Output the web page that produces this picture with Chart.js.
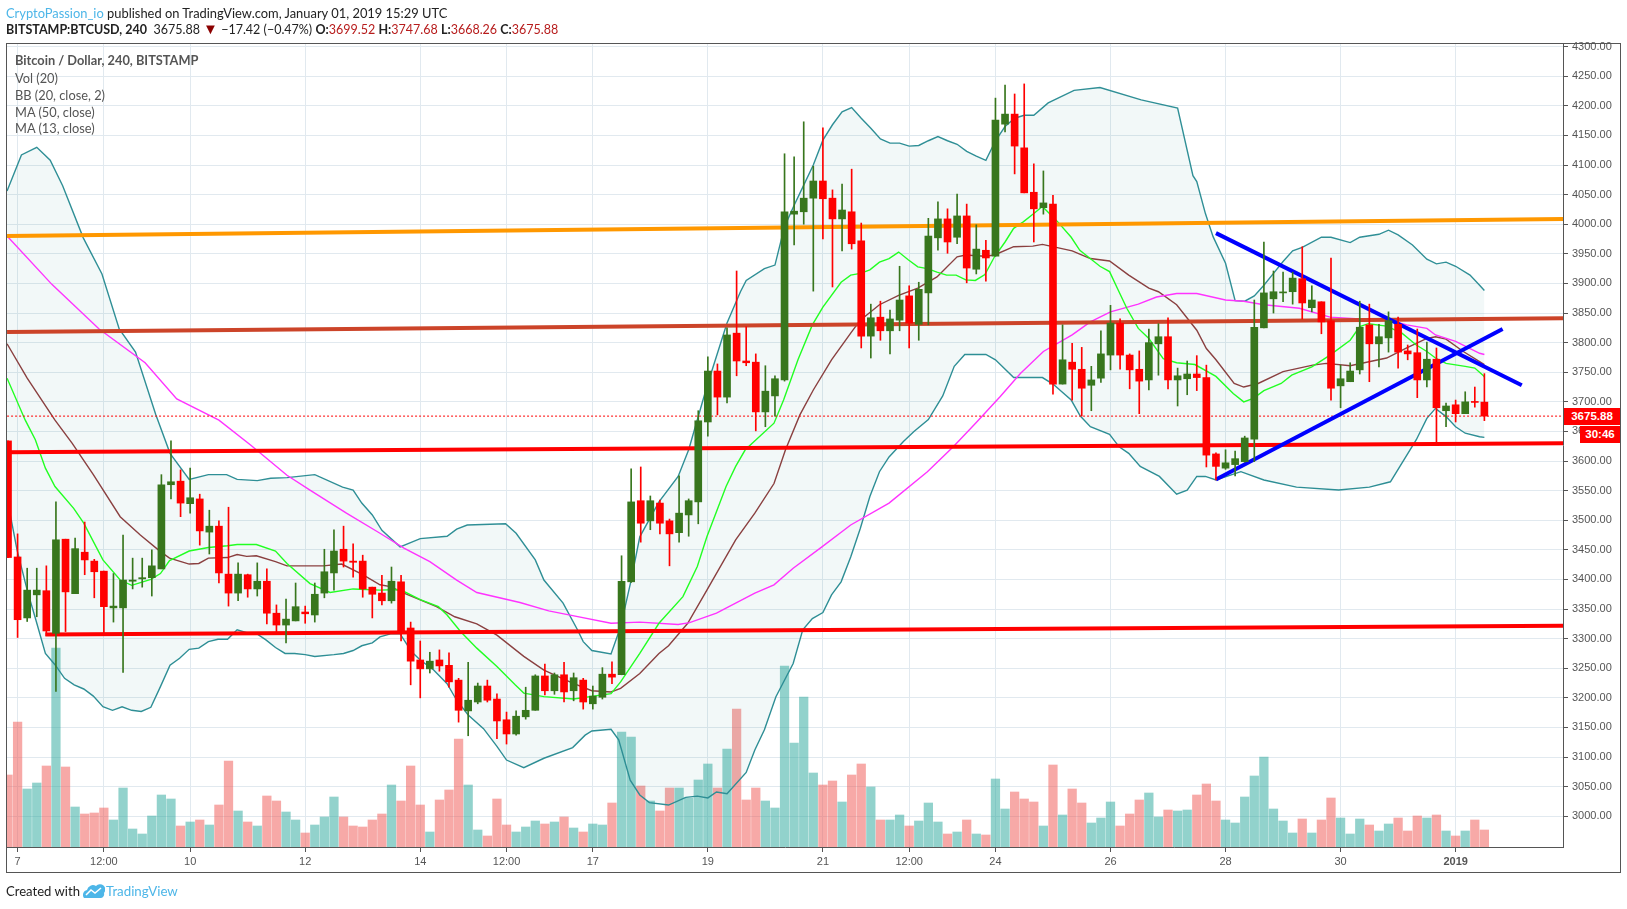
<!DOCTYPE html>
<html>
<head>
<meta charset="utf-8">
<title>BTCUSD</title>
<script src="https://cdn.jsdelivr.net/npm/chart.js@4/dist/chart.umd.min.js"></script>
<style>
    body { margin: 0; background: #fff; overflow: hidden; }
    #wrap { position: relative; width: 1627px; height: 909px; font-family: Lato, sans-serif; }
    #frame { position: absolute; left: 6px; top: 43px; width: 1613px; height: 828px; border: 1px solid #555; pointer-events: none; }
    .txt { position: absolute; white-space: nowrap; line-height: 16px; }
    .legend { left: 15px; color: #555; font-size: 12.8px; }
    .val { color: #b71c1c; }
    .tag { position: absolute; background: #ff0000; color: #fff; font: bold 11.5px "Liberation Sans", sans-serif; text-align: center; }
    canvas { position: absolute; left: 0; top: 0; }
</style>
</head>
<body>
<div id="wrap">
    <canvas id="chart" width="1627" height="909"></canvas>
    <div id="frame"></div>
    <div class="txt" style="left:6px;top:5px;font-size:12.9px;color:#222"><span style="color:#4db6e8">CryptoPassion_io</span> published on TradingView.com, January 01, 2019 15:29 UTC</div>
    <div class="txt" style="left:6px;top:21px;font-size:12.5px;color:#222"><b>BITSTAMP:BTCUSD, 240</b>&nbsp; 3675.88 <span style="color:#8b0000;font-size:15px;line-height:14px">▼</span> −17.42 (−0.47%) <b>O:</b><span class="val">3699.52</span> <b>H:</b><span class="val">3747.68</span> <b>L:</b><span class="val">3668.26</span> <b>C:</b><span class="val">3675.88</span></div>
    <div class="txt legend" style="top:52px"><b>Bitcoin / Dollar, 240, BITSTAMP</b></div>
    <div class="txt legend" style="top:70px">Vol (20)</div>
    <div class="txt legend" style="top:87px">BB (20, close, 2)</div>
    <div class="txt legend" style="top:104px">MA (50, close)</div>
    <div class="txt legend" style="top:120px">MA (13, close)</div>
    <div class="tag" style="left:1564px;top:408px;width:56px;height:17px;line-height:17px">3675.88</div>
    <div class="tag" style="left:1580px;top:426px;width:40px;height:17px;line-height:17px">30:46</div>
    <div class="txt" style="left:6px;top:883px;font-size:13.1px;color:#222">Created with</div>
    <svg style="position:absolute;left:83px;top:883px" width="22" height="16" viewBox="0 0 22 16">
        <path d="M1 15 A5 5 0 0 1 4 7 A6 6 0 0 1 13 3 A5 5 0 0 1 21 10 A4 4 0 0 1 18 15 Z" fill="#4db6e8"/>
        <path d="M3 12 L8 7 L12 10 L18 5" fill="none" stroke="#fff" stroke-width="1.5"/>
    </svg>
    <div class="txt" style="left:106px;top:883px;font-size:13.3px;color:#4db6e8">TradingView</div>
</div>
<script>
// candles, first one is half hidden behind the left edge, 4h each
const firstIndex = -1;
const opens = [3634,3438,3335,3374,3381,3309,3468,3376,3446,3431,3414,3352,3352,3397,3401,3403,3418,3560,3566,3528,3536,3480,3490,3409,3377,3408,3384,3397,3343,3323,3330,3345,3340,3377,3411,3451,3431,3431,3387,3377,3364,3396,3318,3264,3249,3264,3255,3230,3178,3193,3220,3198,3163,3139,3168,3179,3237,3212,3239,3212,3230,3190,3201,3240,3239,3396,3533,3499,3529,3499,3479,3509,3531,3666,3752,3708,3816,3769,3767,3683,3710,3737,4017,4021,4044,4073,4044,4009,4021,3972,3811,3843,3820,3838,3879,3831,3884,3977,4009,3978,4014,3924,3956,3946,4169,4186,4129,4054,4028,4034,3730,3767,3755,3728,3740,3779,3833,3779,3755,3737,3798,3810,3737,3739,3747,3741,3612,3588,3594,3599,3637,3825,3874,3884,3886,3908,3859,3869,3837,3727,3734,3754,3830,3798,3808,3831,3786,3783,3737,3772,3685,3695,3680,3700,3699.52];
const highs = [3634,3477,3419,3419,3423,3531,3468,3470,3497,3434,3414,3410,3475,3436,3436,3450,3577,3634,3585,3588,3544,3517,3499,3522,3428,3409,3428,3418,3357,3367,3394,3355,3394,3451,3484,3490,3460,3441,3387,3407,3421,3407,3328,3296,3277,3281,3276,3233,3260,3225,3230,3207,3176,3178,3218,3239,3257,3242,3260,3242,3233,3220,3251,3261,3440,3587,3590,3541,3534,3502,3575,3536,3685,3776,3764,3825,3921,3827,3781,3761,3744,4119,4114,4173,4098,4163,4058,4068,4093,4002,3865,3870,3855,3929,3896,3902,4010,4038,4026,4051,4034,3999,3973,4213,4235,4220,4237,4102,4090,4049,3830,3799,3792,3760,3820,3863,3840,3781,3786,3823,3832,3842,3757,3769,3778,3762,3614,3619,3617,3642,3872,3970,3921,3919,3919,3962,3896,3869,3943,3762,3766,3870,3865,3831,3852,3843,3796,3823,3801,3791,3698,3703,3717,3725,3747.68];
const lows = [3437,3302,3329,3337,3305,3211,3312,3376,3408,3369,3309,3328,3243,3384,3387,3372,3418,3536,3506,3512,3458,3443,3394,3355,3364,3370,3372,3325,3311,3293,3330,3326,3328,3369,3382,3421,3404,3370,3335,3357,3360,3296,3222,3200,3242,3245,3218,3159,3136,3190,3193,3131,3122,3137,3164,3179,3205,3206,3193,3195,3181,3181,3198,3224,3239,3395,3463,3484,3477,3423,3463,3473,3494,3642,3678,3698,3744,3761,3651,3658,3676,3735,3965,4000,3887,3975,3894,3955,3958,3791,3774,3804,3781,3820,3791,3804,3830,3956,3951,3967,3901,3916,3904,3946,4156,4085,4053,3970,4017,3713,3730,3703,3676,3685,3733,3754,3755,3722,3680,3720,3745,3722,3693,3712,3719,3590,3568,3586,3575,3598,3599,3825,3850,3869,3865,3840,3852,3815,3703,3690,3734,3747,3734,3759,3784,3757,3771,3707,3725,3631,3658,3666,3680,3691,3668.26];
const closes = [3437,3332,3382,3382,3313,3467,3379,3452,3433,3413,3354,3355,3399,3399,3403,3423,3560,3565,3529,3538,3482,3490,3411,3377,3409,3384,3397,3343,3323,3333,3354,3342,3375,3413,3448,3431,3429,3384,3375,3364,3397,3313,3262,3249,3262,3254,3227,3179,3196,3220,3196,3161,3139,3169,3179,3237,3212,3239,3210,3234,3193,3203,3240,3235,3397,3531,3495,3533,3495,3477,3512,3533,3668,3752,3708,3813,3769,3766,3683,3718,3739,4021,4022,4044,4073,4043,4009,4024,3967,3811,3842,3820,3840,3872,3833,3890,3980,4009,3970,4014,3926,3958,3943,4176,4186,4132,4053,4026,4036,3730,3771,3755,3723,3737,3781,3833,3779,3754,3735,3800,3810,3737,3744,3747,3741,3610,3591,3597,3604,3639,3826,3884,3886,3885,3909,3867,3872,3835,3723,3739,3752,3826,3798,3810,3837,3784,3781,3737,3772,3690,3693,3680,3700,3699,3675.88];
// volume axis is hidden, values are on a made up scale
const volumes = [72,125,58,64,81,199,80,40,33,34,39,27,59,18,13,31,52,48,21,25,27,22,42,86,36,25,21,51,46,35,27,14,22,30,50,30,21,20,27,33,62,46,81,42,15,47,57,108,62,17,11,48,22,15,20,26,23,25,30,19,15,23,22,44,115,110,61,46,36,59,59,49,67,83,59,98,138,47,59,46,39,181,104,150,74,62,66,45,72,83,60,27,27,32,21,26,44,25,13,15,27,13,12,68,38,55,48,45,21,82,32,58,44,24,29,45,21,33,47,54,30,37,36,37,52,63,46,27,24,50,71,90,38,26,14,28,14,27,49,29,13,28,22,16,23,29,16,31,29,32,16,11,16,27,17];

// indicators, read at the turning points of each line
const bbUpperIdx = [-1.1,0.4,2,3.4,4.7,6.85,8.8,10.6,12.3,14.4,15.9,17.9,19.9,21.8,22.9,25,26.4,28.1,31,33.9,35,35.9,37,38,39.9,42,44.8,45.8,46.9,50.9,52,54,54.9,56.9,58.4,59,59.9,61.9,62.9,64,64.9,66.9,68.9,70,71.9,74,75.4,76,77.9,79,80,81,82,83,84,85,86,87,88,89,90,91,92,93,94,95,96,97,98,99,100,101,102,103,104,105,106,107.5,110.2,112.9,117.2,121,122.6,123,123.9,124.7,126,127,128,129,130,131,132,133,134,136,137,139,140,142,143,144,145.5,147,148,149,150,151.5,152.5,153];
const bbUpperVal = [4056,4117,4130,4108,4065,3977,3916,3823,3784,3679,3613,3569,3577,3577,3569,3567,3571,3572,3577,3556,3551,3529,3509,3483,3455,3469,3473,3485,3492,3494,3478,3433,3399,3360,3315,3295,3280,3274,3320,3399,3472,3531,3574,3619,3726,3833,3886,3905,3925,3931,3996,4032,4066,4100,4142,4168,4190,4197,4179,4162,4144,4137,4137,4132,4133,4141,4148,4141,4135,4123,4115,4108,4141,4165,4179,4184,4184,4205,4226,4231,4210,4196,4082,4072,4018,3979,3934,3871,3870,3879,3897,3917,3937,3955,3961,3978,3978,3969,3978,3983,3990,3982,3965,3941,3933,3936,3929,3914,3897,3888];
const bbLowerIdx = [-1.1,-0.76,-0.06,1,1.9,2.9,3.9,4.9,5.9,6.9,7.9,8.9,9.9,10.9,11.9,12.9,13.9,14.9,15.9,16.9,17.9,18.9,19.9,20.9,21.9,22.9,23.9,24.9,25.9,26.9,27.9,28.9,30,31,33,34,35,35.9,37,37.8,38.9,39.9,41.1,42,43.4,44.8,45.8,47,48.6,50,51,52.8,54.9,57.9,59.2,59.9,61.9,62.7,63.9,64.9,65.9,67.9,69.7,70.9,72,72.9,74,76,76.9,77.9,79.1,80.9,81.9,82.9,84,84.9,85.9,86.9,87.9,88.9,89.9,90.9,92.4,93.5,95,96.5,97.7,98.8,101,102,103.9,106.9,108,109.9,110.85,111.9,113.9,114.9,115.9,117.1,119.1,120.9,122,123,123.9,125,127.6,130,133.4,137.8,141,143.2,145.9,147,147.9,149,150,151,152.5,153];
const bbLowerVal = [3540,3509,3450,3382,3332,3275,3256,3233,3222,3215,3203,3185,3179,3185,3179,3177,3184,3219,3255,3267,3282,3284,3295,3299,3299,3315,3310,3309,3298,3285,3275,3275,3273,3270,3273,3275,3280,3288,3293,3303,3308,3308,3278,3264,3247,3224,3196,3171,3148,3118,3095,3082,3098,3116,3137,3144,3147,3129,3061,3036,3023,3019,3032,3034,3031,3041,3038,3074,3112,3146,3202,3258,3315,3334,3344,3374,3396,3438,3486,3540,3582,3607,3633,3650,3670,3710,3760,3780,3780,3771,3741,3741,3730,3703,3676,3658,3645,3624,3613,3591,3574,3544,3551,3574,3574,3568,3582,3568,3556,3551,3556,3565,3636,3672,3689,3675,3658,3647,3641,3640];
const bbBasisIdx = [-1.1,1,3.9,5.7,7.9,10.7,12.8,14.9,15.85,17.9,18.9,19.9,21.9,22.9,23.9,24.9,26.9,28.1,31.9,33.8,36,37.8,38.9,40.3,43.7,45.6,47.9,50,52.8,54.9,57.9,59.9,61.9,62.9,64.9,66.9,67.9,69.9,71.9,74.9,76.9,78.9,80.1,81.6,83,84.9,86.9,87.9,89.9,91.9,93.9,95.9,98,98.9,100.9,101.9,103.9,105.9,106.9,110,111.9,113.9,115.9,118,119,120.9,123,124,125,126.9,127.9,129.4,132,135.1,136.5,139,142.8,144.9,147,147.9,149,150.8,152.5,153];
const bbBasisVal = [3798,3740,3669,3630,3577,3506,3475,3447,3436,3426,3427,3436,3437,3442,3439,3440,3430,3423,3423,3426,3408,3391,3388,3377,3354,3337,3325,3306,3270,3247,3225,3212,3210,3216,3241,3275,3288,3326,3382,3467,3512,3562,3619,3678,3720,3771,3816,3838,3864,3880,3892,3911,3945,3948,3946,3948,3962,3963,3966,3955,3942,3938,3914,3892,3886,3864,3821,3790,3771,3731,3725,3731,3751,3762,3765,3761,3774,3791,3807,3810,3806,3785,3768,3763];
const ma50Idx = [-1.1,3.6,8.5,13.3,16.6,21,24.3,28.1,30.5,34.3,37.8,40.3,43,45.8,47.9,52.4,55.4,57.9,61.9,64.9,68.9,70.1,72.9,76.9,78.9,80.9,83.9,86.9,90.9,94.9,97.6,100,102.5,104.6,107,110,111.9,114,116.9,118.8,120.9,123,126,127.9,130,133.7,136.9,140,142.8,144.9,147,147.9,150,152.5,153];
const ma50Val = [3980,3898,3823,3766,3705,3669,3627,3576,3551,3512,3478,3453,3430,3399,3378,3361,3347,3339,3326,3328,3324,3327,3343,3377,3391,3419,3455,3492,3529,3582,3624,3665,3709,3748,3785,3813,3835,3852,3865,3877,3883,3883,3872,3870,3864,3858,3843,3840,3839,3830,3824,3813,3802,3782,3780];
const ma13Idx = [-1.1,0.8,1.85,2.9,3.9,5.85,6.9,8.9,10.7,11.9,13.9,14.9,15.85,17.9,19.9,21.9,22.9,24.9,26.9,28.1,30.5,32.6,35,37.8,39.9,42,43.9,44.8,46.2,47.9,50,51.9,52.8,54.9,58,61.9,62.9,64.9,66.9,69.4,70.9,71.9,73.9,74.9,75.9,78.9,79.9,81.4,82.9,84,85.9,86.9,87.9,88.9,89.9,90.9,91.9,92.9,93.9,94.9,95.9,96.9,97.9,98.9,99.9,100.9,101.9,103,103.9,104.9,106,106.9,108.5,109.9,110.8,112.9,113.9,114.8,115.7,116.9,118,119.5,120.9,122.8,125,126.8,127.9,128.9,130,131.8,132.9,135,136.9,139,140,140.9,142.8,144.4,145.9,147,147.9,149,151,152,152.9,153];
const ma13Val = [3740,3669,3636,3588,3557,3520,3495,3433,3399,3390,3400,3410,3432,3448,3454,3457,3459,3459,3448,3427,3393,3378,3384,3382,3383,3366,3354,3340,3312,3284,3253,3222,3208,3202,3198,3207,3227,3275,3326,3371,3422,3472,3557,3591,3619,3664,3703,3771,3830,3860,3902,3914,3917,3923,3936,3942,3953,3940,3928,3925,3919,3914,3914,3906,3905,3915,3945,3970,3993,4004,4018,4030,4004,3978,3956,3929,3920,3889,3858,3824,3807,3773,3766,3763,3743,3714,3700,3706,3719,3731,3745,3759,3779,3804,3827,3832,3828,3816,3796,3785,3774,3765,3760,3757,3744,3742];

// hand drawn trend lines, [start, end]
const orangeLine = { idx: [-1.1, 161.2], val: [3980, 4009] };
const brownLine = { idx: [-1.1, 161.2], val: [3818, 3841] };
const redUpper = { idx: [-1.1, 161.2], val: [3615, 3630] };
const redLower = { idx: [2.9, 161.2], val: [3307, 3322] };
const blueFalling = { idx: [125, 156.9], val: [3985, 3728] };
const blueRising = { idx: [125, 154.9], val: [3569, 3823] };
const lastPrice = 3675.88;

// time axis
const xTickIdx = [0, 9, 18, 30, 42, 51, 60, 72, 84, 93, 102, 114, 126, 138, 150];
const xTickLabels = ['7', '12:00', '10', '12', '14', '12:00', '17', '19', '21', '12:00', '24', '26', '28', '30', '2019'];

const upColor = '#38761d';
const downColor = '#ff0000';

const candleX = opens.map((o, i) => i + firstIndex);
const candleColors = opens.map((o, i) => closes[i] >= o ? upColor : downColor);
const volumeColors = opens.map((o, i) => closes[i] >= o ? 'rgba(38,166,154,0.5)' : 'rgba(239,83,80,0.5)');

function points(xs, ys) {
    return xs.map((x, i) => ({ x: x, y: ys[i] }));
}

function lineSet(xs, ys, color, width, order, extra) {
    return Object.assign({
        type: 'line',
        data: points(xs, ys),
        borderColor: color,
        borderWidth: width,
        pointRadius: 0,
        tension: 0,
        fill: false,
        order: order
    }, extra || {});
}

const ctx = document.getElementById('chart').getContext('2d');
new Chart(ctx, {
    data: {
        datasets: [
            {
                type: 'bar',
                data: candleX.map((x, i) => ({ x: x, y: volumes[i] })),
                yAxisID: 'vol',
                backgroundColor: volumeColors,
                barThickness: 8.6,
                order: 50
            },
            lineSet(bbUpperIdx, bbUpperVal, '#2f8f96', 1.4, 40, { fill: { target: '+1' }, backgroundColor: 'rgba(40,140,140,0.06)' }),
            lineSet(bbLowerIdx, bbLowerVal, '#2f8f96', 1.4, 40),
            lineSet(bbBasisIdx, bbBasisVal, '#8a4040', 1.4, 38),
            lineSet(ma50Idx, ma50Val, '#ff33ff', 1.4, 37),
            lineSet(ma13Idx, ma13Val, '#22ff22', 1.4, 36),
            lineSet([-1.1, 161.2], [lastPrice, lastPrice], '#ff0000', 1, 35, { borderDash: [2, 2] }),
            lineSet(orangeLine.idx, orangeLine.val, '#ff9800', 4, 30),
            lineSet(brownLine.idx, brownLine.val, '#cc4429', 4, 30),
            lineSet(redUpper.idx, redUpper.val, '#ff0000', 4, 30),
            lineSet(redLower.idx, redLower.val, '#ff0000', 4, 30),
            lineSet(blueFalling.idx, blueFalling.val, '#0000ff', 4, 29),
            lineSet(blueRising.idx, blueRising.val, '#0000ff', 4, 29),
            {
                // wicks
                type: 'bar',
                data: candleX.map((x, i) => ({ x: x, y: [lows[i], highs[i]] })),
                backgroundColor: candleColors,
                barThickness: 1,
                order: 2
            },
            {
                // bodies
                type: 'bar',
                data: candleX.map((x, i) => ({ x: x, y: [opens[i], closes[i]] })),
                backgroundColor: candleColors,
                barThickness: 7,
                minBarLength: 1,
                order: 1
            }
        ]
    },
    options: {
        responsive: false,
        animation: false,
        events: [],
        layout: { padding: { left: 7, top: 43, right: 0, bottom: 0 } },
        datasets: { bar: { grouped: false, borderWidth: 0, borderSkipped: false } },
        plugins: {
            legend: { display: false },
            title: { display: false },
            tooltip: { enabled: false }
        },
        scales: {
            x: {
                type: 'linear',
                offset: false,
                min: -1.105,
                max: 161.2,
                afterFit: function(scale) { scale.height = 62; },
                afterBuildTicks: function(scale) {
                    scale.ticks = xTickIdx.map(v => ({ value: v }));
                },
                grid: { offset: false, color: '#e1e9ef', tickColor: '#555', tickLength: 5, lineWidth: 1 },
                border: { display: true, color: '#555' },
                ticks: {
                    autoSkip: false,
                    maxRotation: 0,
                    padding: 3,
                    color: '#555',
                    font: function(c) {
                        return { family: '"Liberation Sans"', size: 11, weight: c.tick && c.tick.value === 150 ? 'bold' : 'normal' };
                    },
                    callback: function(v) { return xTickLabels[xTickIdx.indexOf(v)]; }
                }
            },
            y: {
                position: 'right',
                min: 2948.1,
                max: 4306.1,
                afterFit: function(scale) { scale.width = 64; },
                afterBuildTicks: function(scale) {
                    scale.ticks = scale.ticks.filter(t => t.value >= 3000 && t.value <= 4300);
                },
                grid: { color: '#e1e9ef', tickColor: '#555', tickLength: 5, lineWidth: 1 },
                border: { display: true, color: '#555' },
                ticks: {
                    stepSize: 50,
                    includeBounds: false,
                    padding: 4,
                    color: '#555',
                    font: { family: '"Liberation Sans"', size: 11 },
                    callback: function(v) { return v.toFixed(2); }
                }
            },
            vol: {
                display: false,
                min: 0,
                max: 804
            }
        }
    }
});
</script>
</body>
</html>
